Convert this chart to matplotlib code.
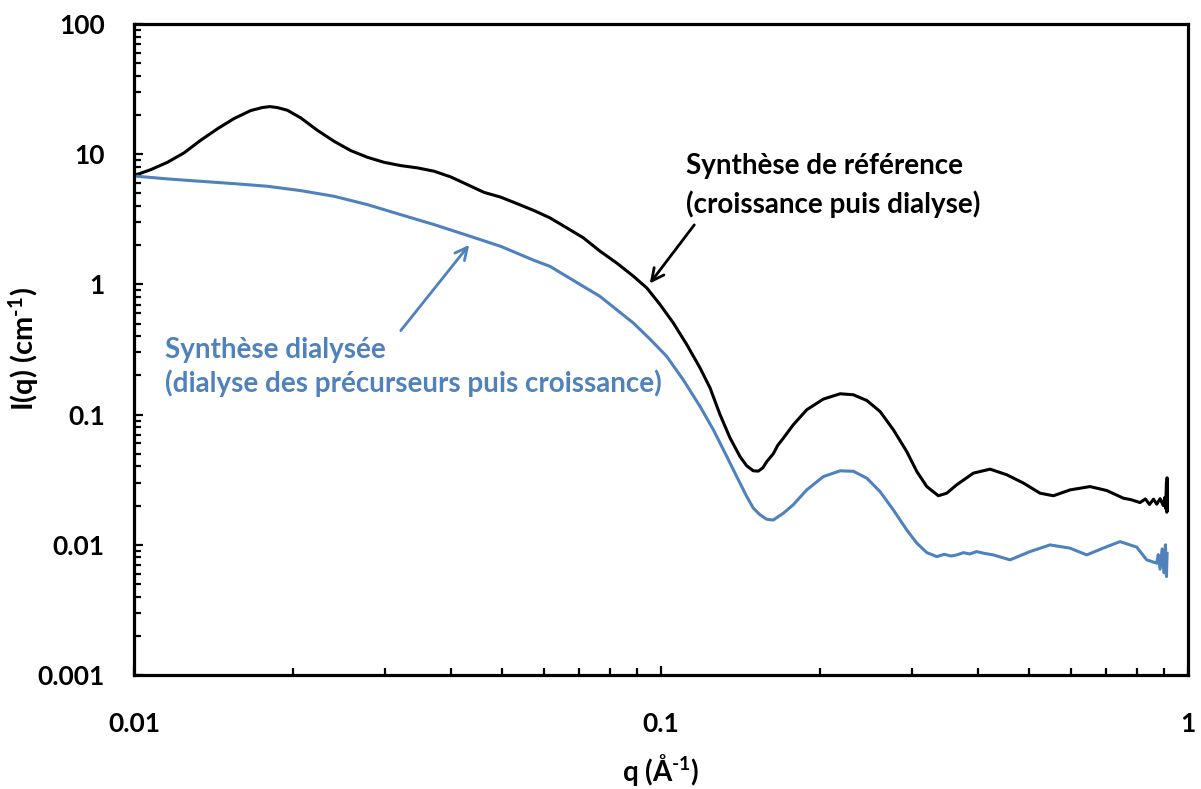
import matplotlib
matplotlib.use("Agg")
import matplotlib.pyplot as plt
from matplotlib.ticker import LogLocator, FuncFormatter, NullFormatter

plt.rcParams['font.family'] = ['Lato', 'DejaVu Sans']
plt.rcParams['font.weight'] = 'bold'
plt.rcParams['mathtext.fontset'] = 'custom'
plt.rcParams['mathtext.rm'] = 'Lato:bold'
plt.rcParams['mathtext.bf'] = 'Lato:bold'
plt.rcParams['mathtext.default'] = 'rm'

# SAXS intensity, reference synthesis (growth then dialysis)
q_ref = [0.01000, 0.01076, 0.01157, 0.01244, 0.01338, 0.01439, 0.01548, 0.01665,
         0.01750, 0.01810, 0.01870, 0.01954, 0.02072, 0.02227, 0.02396, 0.02577, 0.02772,
         0.02981, 0.03208, 0.03449, 0.03709, 0.03990, 0.04290, 0.04614, 0.04963,
         0.05338, 0.05741, 0.06157, 0.06622, 0.07120, 0.07659, 0.08238, 0.08862,
         0.09395, 0.09957, 0.1055, 0.1119, 0.1186, 0.1239, 0.1294, 0.1352,
         0.1412, 0.1454, 0.1497, 0.1530, 0.1560, 0.1587, 0.1633, 0.1665, 0.1707,
         0.1782, 0.1890, 0.2032, 0.2187, 0.2317, 0.2457, 0.2604, 0.2760, 0.2926,
         0.3058, 0.3194, 0.3359, 0.3484, 0.3640, 0.3914, 0.4211, 0.4529, 0.4871,
         0.5239, 0.5553, 0.5973, 0.6517, 0.7012, 0.7538, 0.7800, 0.8107, 0.8300,
         0.8450, 0.8600, 0.8723, 0.8850, 0.8978, 0.9030, 0.9070, 0.9100, 0.9115,
         0.9126, 0.9126]
I_ref = [6.85, 7.61, 8.66, 10.23, 12.79, 15.65, 18.78, 21.63,
         22.80, 23.20, 22.80, 21.75, 19.0, 15.27, 12.57, 10.66, 9.47,
         8.66, 8.17, 7.85, 7.40, 6.69, 5.84, 5.09, 4.68,
         4.16, 3.69, 3.24, 2.72, 2.28, 1.80, 1.46, 1.156,
         0.940, 0.700, 0.506, 0.345, 0.228, 0.160, 0.100, 0.0661,
         0.0476, 0.0404, 0.0370, 0.0368, 0.0390, 0.0435, 0.0500, 0.0580, 0.0660,
         0.0835, 0.1089, 0.1315, 0.1445, 0.1420, 0.1284, 0.1056, 0.0764, 0.0520,
         0.0365, 0.0280, 0.0238, 0.0249, 0.0289, 0.0355, 0.0381, 0.0345, 0.0298,
         0.0249, 0.0238, 0.0264, 0.0280, 0.0261, 0.0228, 0.0222, 0.0211, 0.0225,
         0.0204, 0.0224, 0.0205, 0.0226, 0.0200, 0.0230, 0.0190, 0.0300, 0.0178,
         0.0327, 0.0185]

# SAXS intensity, dialysed synthesis (precursor dialysis then growth)
q_dia = [0.01000, 0.01157, 0.01338, 0.01548, 0.01791, 0.02072, 0.02396, 0.02772,
         0.03208, 0.03709, 0.04290, 0.04963, 0.05741, 0.06157, 0.06622, 0.07120,
         0.07659, 0.08238, 0.08862, 0.09530, 0.1025, 0.1102, 0.1186, 0.1257,
         0.1333, 0.1392, 0.1454, 0.1497, 0.1541, 0.1587, 0.1633, 0.1707, 0.1782,
         0.1890, 0.2032, 0.2187, 0.2317, 0.2457, 0.2604, 0.2760, 0.2926, 0.3058,
         0.3194, 0.3336, 0.3450, 0.3550, 0.3640, 0.3750, 0.3850, 0.3972, 0.4100,
         0.4272, 0.4595, 0.5015, 0.5472, 0.5973, 0.6425, 0.6897, 0.7430, 0.7990,
         0.8348, 0.8723, 0.8780, 0.8850, 0.8930, 0.9000, 0.9060, 0.9100, 0.9126]
I_dia = [6.80, 6.46, 6.19, 5.94, 5.67, 5.25, 4.75, 4.10,
         3.43, 2.88, 2.38, 1.96, 1.53, 1.375, 1.152, 0.965,
         0.809, 0.639, 0.505, 0.380, 0.280, 0.185, 0.1154, 0.0764,
         0.0476, 0.0334, 0.0235, 0.0191, 0.0170, 0.0157, 0.0155, 0.0175, 0.0203,
         0.0264, 0.0334, 0.0370, 0.0367, 0.0325, 0.0256, 0.0185, 0.0130, 0.01029,
         0.00871, 0.00811, 0.00845, 0.00820, 0.00836, 0.00870, 0.00850, 0.00887, 0.00860,
         0.00836, 0.00766, 0.00887, 0.00998, 0.00942, 0.00836, 0.00942, 0.01058, 0.00960,
         0.00766, 0.00722, 0.0084, 0.0065, 0.0093, 0.0061, 0.0100, 0.0057, 0.0086]

blue = '#4F81BD'

fig = plt.figure(figsize=(12.01, 7.89), dpi=100)
ax = fig.add_axes([0.1116, 0.1445, 0.8776, 0.8251])

ax.plot(q_ref, I_ref, color='black', lw=2.2, solid_joinstyle='round')
ax.plot(q_dia, I_dia, color=blue, lw=2.2, solid_joinstyle='round')

ax.set_xscale('log')
ax.set_yscale('log')
ax.set_xlim(0.01, 1)
ax.set_ylim(0.001, 100)

fmt = FuncFormatter(lambda v, p: f'{v:g}')
for axis in (ax.xaxis, ax.yaxis):
    axis.set_major_locator(LogLocator(base=10))
    axis.set_minor_locator(LogLocator(base=10, subs=range(2, 10)))
    axis.set_major_formatter(fmt)
    axis.set_minor_formatter(NullFormatter())

ax.tick_params(which='both', direction='in', top=False, right=False,
               width=1.6, labelsize=19)
ax.tick_params(which='major', length=6.5)
ax.tick_params(which='minor', length=5)
ax.tick_params(axis='x', pad=27)
ax.tick_params(axis='y', pad=21)
for s in ax.spines.values():
    s.set_linewidth(2.3)

ax.set_ylabel(r'I(q) (cm$^{\text{-1}}$)', fontsize=21, fontweight='bold')
ax.set_xlabel(r'q (Å$^{\text{-1}}$)', fontsize=20, fontweight='bold')
ax.yaxis.set_label_coords(-0.088, 0.5)
ax.xaxis.set_label_coords(0.5, -0.118)

# annotations
ax.text(0.1115, 8.17, 'Synthèse de référence', fontsize=20, fontweight='bold',
        color='black', ha='left', va='center')
ax.text(0.1115, 4.10, '(croissance puis dialyse)', fontsize=20, fontweight='bold',
        color='black', ha='left', va='center')
ax.annotate('', xy=(0.0945, 0.977), xytext=(0.1165, 2.98),
            arrowprops=dict(arrowstyle='->', color='black', lw=2, mutation_scale=22))

ax.text(0.01145, 0.315, 'Synthèse dialysée', fontsize=20, fontweight='bold',
        color=blue, ha='left', va='center')
ax.text(0.01145, 0.1755, '(dialyse des précurseurs puis croissance)', fontsize=20,
        fontweight='bold', color=blue, ha='left', va='center')
ax.annotate('', xy=(0.04358, 2.09), xytext=(0.03183, 0.425),
            arrowprops=dict(arrowstyle='->', color=blue, lw=2, mutation_scale=22))

fig.savefig('out.png', dpi=100)
